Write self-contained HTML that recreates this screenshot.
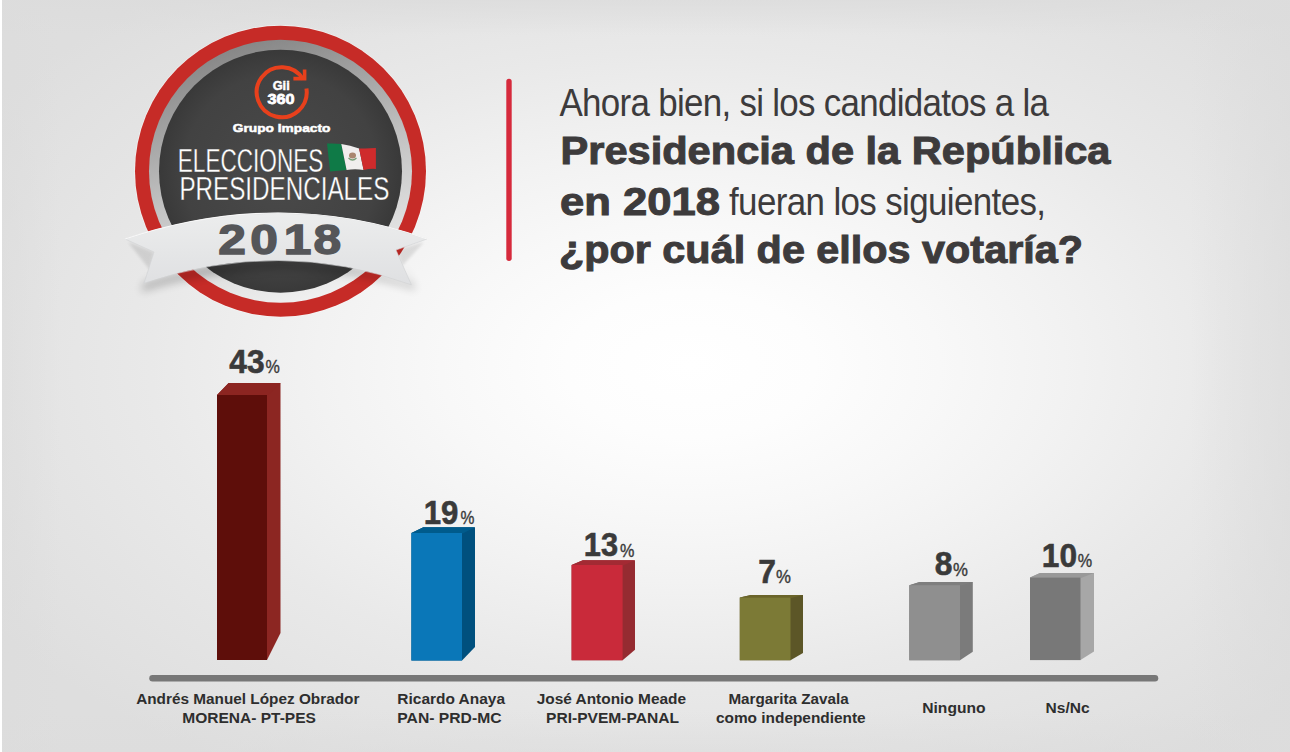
<!DOCTYPE html>
<html><head><meta charset="utf-8">
<style>
html,body{margin:0;padding:0;width:1290px;height:752px;overflow:hidden;}
body{background:#dedede;}
svg{display:block;font-family:"Liberation Sans",sans-serif;}
</style></head>
<body>
<svg width="1290" height="752" viewBox="0 0 1290 752">
<defs>
  <radialGradient id="bg" gradientUnits="userSpaceOnUse" cx="690" cy="365" r="830" gradientTransform="translate(690 365) scale(1 0.58) translate(-690 -365)">
    <stop offset="0" stop-color="#ffffff"/>
    <stop offset="0.15" stop-color="#fdfdfd"/>
    <stop offset="0.3" stop-color="#f8f8f8"/>
    <stop offset="0.45" stop-color="#f2f2f2"/>
    <stop offset="0.65" stop-color="#e9e9e9"/>
    <stop offset="0.8" stop-color="#e4e4e4"/>
    <stop offset="1" stop-color="#dedede"/>
  </radialGradient>
  <linearGradient id="edgeT" x1="0" y1="0" x2="0" y2="1"><stop offset="0" stop-color="#dcdcdc" stop-opacity="1"/><stop offset="1" stop-color="#dcdcdc" stop-opacity="0"/></linearGradient>
  <linearGradient id="edgeL" x1="0" y1="0" x2="1" y2="0"><stop offset="0" stop-color="#dcdcdc" stop-opacity="1"/><stop offset="1" stop-color="#dcdcdc" stop-opacity="0"/></linearGradient>
  <linearGradient id="edgeR" x1="1" y1="0" x2="0" y2="0"><stop offset="0" stop-color="#dcdcdc" stop-opacity="1"/><stop offset="1" stop-color="#dcdcdc" stop-opacity="0"/></linearGradient>
  <linearGradient id="edgeB" x1="0" y1="1" x2="0" y2="0"><stop offset="0" stop-color="#dcdcdc" stop-opacity="1"/><stop offset="1" stop-color="#dcdcdc" stop-opacity="0"/></linearGradient>
  <linearGradient id="grayring" x1="0.35" y1="0" x2="0.65" y2="1">
    <stop offset="0" stop-color="#858585"/>
    <stop offset="0.5" stop-color="#c2c2c2"/>
    <stop offset="1" stop-color="#f2f2f2"/>
  </linearGradient>
  <radialGradient id="disc" cx="0.5" cy="0.5" r="0.5">
    <stop offset="0" stop-color="#4a4a4a"/>
    <stop offset="0.8" stop-color="#424242"/>
    <stop offset="1" stop-color="#393939"/>
  </radialGradient>
  <linearGradient id="ribbon" x1="0" y1="0" x2="0" y2="1">
    <stop offset="0" stop-color="#eceded"/>
    <stop offset="1" stop-color="#dfe0e2"/>
  </linearGradient>
  <filter id="blur4" x="-50%" y="-50%" width="200%" height="200%"><feGaussianBlur stdDeviation="4"/></filter>
  <filter id="blur2" x="-50%" y="-50%" width="200%" height="200%"><feGaussianBlur stdDeviation="1.5"/></filter>
</defs>
<rect x="0" y="0" width="1290" height="752" fill="url(#bg)"/>
<rect x="0" y="0" width="1290" height="35" fill="url(#edgeT)" opacity="0.8"/>
<rect x="0" y="0" width="60" height="752" fill="url(#edgeL)" opacity="0.6"/>
<rect x="1190" y="0" width="100" height="752" fill="url(#edgeR)" opacity="0.7"/>
<rect x="0" y="712" width="1290" height="40" fill="url(#edgeB)" opacity="0.5"/>
<rect x="0" y="0" width="2" height="752" fill="#ffffff"/>

<!-- BADGE -->
<g id="badge">
  <circle cx="280.5" cy="171.2" r="146.2" fill="#fafafa" opacity="0.7"/>
  <circle cx="280.5" cy="171.2" r="145.5" fill="#c62b27"/>
  <circle cx="280.5" cy="171.2" r="131.5" fill="url(#grayring)"/>
  <circle cx="280.5" cy="171.2" r="121.5" fill="url(#disc)"/>
  <!-- orange logo circle -->
  <path d="M 306.43 88.5 A 25 25 0 1 1 303.13 79.32" fill="none" stroke="#e8401c" stroke-width="4"/>
  <path d="M 293.4 78.6 L 304.6 78.6 L 304.6 69.6" fill="none" stroke="#e8401c" stroke-width="3.6" stroke-linejoin="miter"/>
  <text x="281.2" y="90.3" font-size="12" font-weight="bold" fill="#fff" stroke="#fff" stroke-width="0.45" text-anchor="middle" textLength="17" lengthAdjust="spacingAndGlyphs">Gii</text>
  <text x="281" y="103.6" font-size="15.5" font-weight="bold" fill="#fff" stroke="#fff" stroke-width="0.8" text-anchor="middle" textLength="27" lengthAdjust="spacingAndGlyphs">360</text>
  <text x="232.8" y="132.3" font-size="11" font-weight="bold" fill="#fff" stroke="#fff" stroke-width="0.5" textLength="97.6" lengthAdjust="spacingAndGlyphs">Grupo Impacto</text>
  <text x="177.8" y="171.5" font-size="33.4" fill="#fff" stroke="#454545" stroke-width="0.35" textLength="145.5" lengthAdjust="spacingAndGlyphs">ELECCIONES</text>
  <text x="179.4" y="200" font-size="33.4" fill="#fff" stroke="#454545" stroke-width="0.35" textLength="210" lengthAdjust="spacingAndGlyphs">PRESIDENCIALES</text>
  <!-- flag -->
  <path d="M327 143.6 Q334 143 341.3 144.1 L346.6 169.9 Q338 170.5 330.1 171.5 Z" fill="#0f7a47"/>
  <path d="M341.3 144.1 Q350 145.5 359.1 148.4 L363.6 169.9 Q355 168.5 346.6 169.9 Z" fill="#f0eeee"/>
  <path d="M359.1 148.4 Q367 148.8 375.9 148.1 L375.9 168.9 Q370 168.5 363.6 169.9 Z" fill="#cf2b2c"/>
  <ellipse cx="352.5" cy="155.5" rx="3.5" ry="3" fill="#8a5a3a" opacity="0.7"/>
  <path d="M348.5 158 Q352.5 162 356.5 158" fill="none" stroke="#5a8a5a" stroke-width="1.2" opacity="0.8"/>
  <!-- ribbon -->
  <path d="M150 262 L144 283 Q280 237 411.4 284.8 L402 262 L416 290 Q280 248 141 292 Z" fill="#000" opacity="0.22" filter="url(#blur4)"/>
  <path d="M128 242 L154 252 L150 270 Z" fill="#000" opacity="0.1" filter="url(#blur2)"/>
  <path d="M424 242 L396 250 L402 266 Z" fill="#000" opacity="0.1" filter="url(#blur2)"/>
  <path d="M125 239 Q280 187 427 239 L396 250 L411.4 284.8 Q280 237 144 283.3 L154 252 Z" fill="url(#ribbon)" stroke="#d0d1d3" stroke-width="0.6"/>
  <path d="M125 239 Q280 187 427 239" fill="none" stroke="#f7f7f7" stroke-width="1.2"/>
  <g transform="translate(0 254) scale(1.17 1)"><text x="186.5 214 242.5 268" y="0" font-size="42.5" font-weight="bold" fill="#555659" stroke="#555659" stroke-width="1.4">2018</text></g>
</g>

<!-- red vertical line -->
<line x1="509" y1="81.5" x2="509" y2="258.2" stroke="#d62a3c" stroke-width="5.4" stroke-linecap="round"/>

<!-- question -->
<g fill="#3d3b3c">
  <g transform="translate(559.5 116) scale(0.92 1)"><text x="0" y="0" font-size="38" textLength="532" lengthAdjust="spacing">Ahora bien, si los candidatos a la</text></g>
  <text x="560.5" y="164" font-size="38" font-weight="bold" textLength="550" lengthAdjust="spacingAndGlyphs" stroke="#3d3b3c" stroke-width="1">Presidencia de la República</text>
  <text x="560" y="215" font-size="38" font-weight="bold" textLength="160" lengthAdjust="spacingAndGlyphs" stroke="#3d3b3c" stroke-width="1">en 2018</text>
  <g transform="translate(729 215) scale(0.92 1)"><text x="0" y="0" font-size="38" textLength="344.6" lengthAdjust="spacing">fueran los siguientes,</text></g>
  <text x="559" y="263" font-size="38" font-weight="bold" textLength="524" lengthAdjust="spacingAndGlyphs" stroke="#3d3b3c" stroke-width="1">¿por cuál de ellos votaría?</text>
</g>

<!-- bars -->
<g>
  <polygon points="217,395 228.6,383 280.5,383 280.5,633 267,660 217,660" fill="#8c2622"/>
  <polygon points="217,395 228.6,383 280.5,383 267.5,395.5 267,395" fill="#8c2521"/>
  <rect x="217" y="395" width="50" height="265" fill="#5e0e0a"/>
  <polygon points="411.4,533 423.3,527.2 475,527.2 475,647 462,660.5 411.4,660.5" fill="#00507e"/>
  <polygon points="411.4,533 423.3,527.2 475,527.2 462.5,533.5 462,533" fill="#005b8c"/>
  <rect x="411.4" y="533" width="50.6" height="127.5" fill="#0a77b8"/>
  <polygon points="571.6,565 582.8,560.2 635,560.2 635,649.8 622.6,660.2 571.6,660.2" fill="#952b31"/>
  <polygon points="571.6,565 582.8,560.2 635,560.2 623.1,565.5 622.6,565" fill="#a32a33"/>
  <rect x="571.6" y="565" width="51.0" height="95.2" fill="#c92a3a"/>
  <polygon points="739.8,597.5 751,595 803,595 803,653 790.5,660.2 739.8,660.2" fill="#5c5627"/>
  <polygon points="739.8,597.5 751,595 803,595 791.0,598.0 790.5,597.5" fill="#6a6429"/>
  <rect x="739.8" y="597.5" width="50.7" height="62.7" fill="#7c7a36"/>
  <polygon points="909.3,585.2 919.6,582.1 972.8,582.1 972.8,651.7 960,660.2 909.3,660.2" fill="#7b7b7b"/>
  <polygon points="909.3,585.2 919.6,582.1 972.8,582.1 960.5,585.7 960,585.2" fill="#7e7e7e"/>
  <rect x="909.3" y="585.2" width="50.7" height="75.0" fill="#8f8f8f"/>
  <polygon points="1030,577.5 1040,573 1094,573 1094,651.4 1080.5,660.1 1030,660.1" fill="#a7a7a7"/>
  <polygon points="1030,577.5 1040,573 1094,573 1081.0,578.0 1080.5,577.5" fill="#999999"/>
  <rect x="1030" y="577.5" width="50.5" height="82.6" fill="#787878"/>
</g>

<!-- percentages -->
<g fill="#3a3a3a">
  <text x="229.3" y="373" font-size="34" font-weight="bold" stroke="#3a3a3a" stroke-width="0.6" textLength="35.27" lengthAdjust="spacingAndGlyphs">43</text>
  <text x="265.4" y="373.3" font-size="19" stroke="#3a3a3a" stroke-width="0.4" textLength="14.32" lengthAdjust="spacingAndGlyphs">%</text>
  <text x="423.77" y="524" font-size="34" font-weight="bold" stroke="#3a3a3a" stroke-width="0.6" textLength="34.69" lengthAdjust="spacingAndGlyphs">19</text>
  <text x="460.5" y="524.3" font-size="19" stroke="#3a3a3a" stroke-width="0.4" textLength="13.92" lengthAdjust="spacingAndGlyphs">%</text>
  <text x="583.79" y="556.2" font-size="34" font-weight="bold" stroke="#3a3a3a" stroke-width="0.6" textLength="34.26" lengthAdjust="spacingAndGlyphs">13</text>
  <text x="620.0" y="556.5" font-size="19" stroke="#3a3a3a" stroke-width="0.4" textLength="14.42" lengthAdjust="spacingAndGlyphs">%</text>
  <text x="758.36" y="582.6" font-size="34" font-weight="bold" stroke="#3a3a3a" stroke-width="0.6" textLength="17.7" lengthAdjust="spacingAndGlyphs">7</text>
  <text x="776.0" y="582.9" font-size="19" stroke="#3a3a3a" stroke-width="0.4" textLength="14.92" lengthAdjust="spacingAndGlyphs">%</text>
  <text x="934.86" y="575.4" font-size="34" font-weight="bold" stroke="#3a3a3a" stroke-width="0.6" textLength="17.7" lengthAdjust="spacingAndGlyphs">8</text>
  <text x="953.0" y="575.6999999999999" font-size="19" stroke="#3a3a3a" stroke-width="0.4" textLength="14.92" lengthAdjust="spacingAndGlyphs">%</text>
  <text x="1041.84" y="566.8" font-size="34" font-weight="bold" stroke="#3a3a3a" stroke-width="0.6" textLength="35.23" lengthAdjust="spacingAndGlyphs">10</text>
  <text x="1077.7" y="567.0999999999999" font-size="19" stroke="#3a3a3a" stroke-width="0.4" textLength="14.42" lengthAdjust="spacingAndGlyphs">%</text>
</g>

<!-- axis -->
<line x1="152.5" y1="678.3" x2="1155" y2="678.3" stroke="#777777" stroke-width="6.5" stroke-linecap="round"/>

<!-- labels -->
<g fill="#2e2e2e" font-weight="bold" font-size="14.5">
  <text x="136.2" y="703.6" textLength="223.2" lengthAdjust="spacingAndGlyphs">Andrés Manuel López Obrador</text>
  <text x="182.23" y="723" textLength="133.64" lengthAdjust="spacingAndGlyphs">MORENA- PT-PES</text>
  <text x="397.33" y="703.6" textLength="107.67" lengthAdjust="spacingAndGlyphs">Ricardo Anaya</text>
  <text x="397.32" y="723" textLength="104.2" lengthAdjust="spacingAndGlyphs">PAN- PRD-MC</text>
  <text x="536.7" y="703.6" textLength="149.4" lengthAdjust="spacingAndGlyphs">José Antonio Meade</text>
  <text x="546.03" y="723" textLength="132.96" lengthAdjust="spacingAndGlyphs">PRI-PVEM-PANAL</text>
  <text x="728.45" y="703.6" textLength="120.18" lengthAdjust="spacingAndGlyphs">Margarita Zavala</text>
  <text x="715.94" y="723" textLength="149.76" lengthAdjust="spacingAndGlyphs">como independiente</text>
  <text x="922.22" y="712.6" textLength="63.34" lengthAdjust="spacingAndGlyphs">Ninguno</text>
  <text x="1045.63" y="712.6" textLength="43.99" lengthAdjust="spacingAndGlyphs">Ns/Nc</text>
</g>
</svg>
</body></html>
